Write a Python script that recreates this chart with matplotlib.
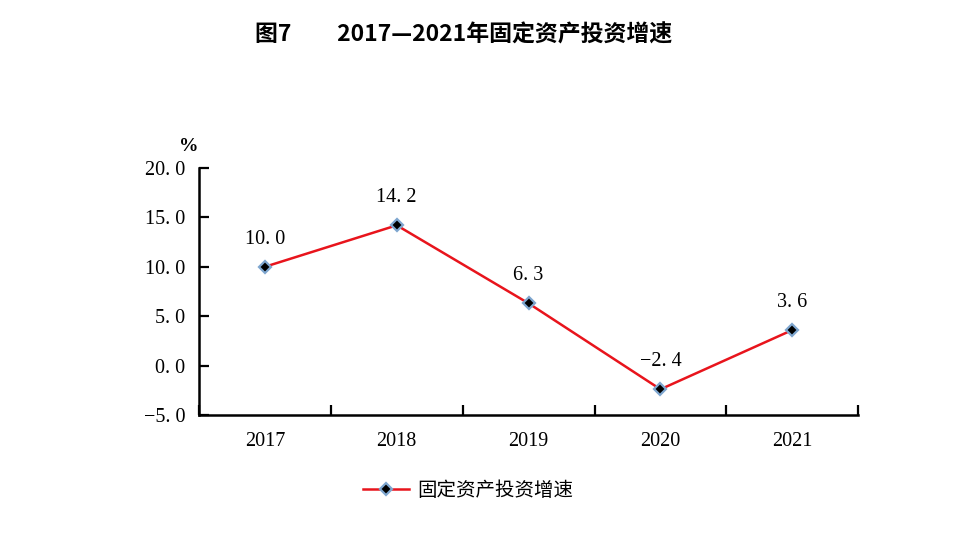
import matplotlib
matplotlib.use("Agg")
import matplotlib.pyplot as plt
from matplotlib.lines import Line2D

years = ["2017", "2018", "2019", "2020", "2021"]
growth = [10.0, 14.2, 6.3, -2.4, 3.6]
y_ticks = [-5.0, 0.0, 5.0, 10.0, 15.0, 20.0]
series_name = "固定资产投资增速"
title = "图7　　2017—2021年固定资产投资增速"

cjk = ["Noto Sans CJK SC", "DejaVu Sans"]
serif = ["Liberation Serif", "DejaVu Serif"]


def fmt(v):
    # wide decimal point like the original Song-style font
    return f"{v:.1f}".replace("-", "−").replace(".", ". ")


fig = plt.figure(figsize=(9.63, 5.33), dpi=100)
ax = fig.add_axes([0.2066, 0.2214, 0.6846, 0.4634])

x = list(range(len(years)))
ax.plot(x, growth, color="#e8141c", linewidth=1.8, marker="D", markersize=6.5,
        markerfacecolor="black", markeredgecolor="#7ea6cf", markeredgewidth=1.6,
        zorder=3)

for xi, v in zip(x, growth):
    ax.annotate(fmt(v), (xi, v), xytext=(0, 13),
                textcoords="offset points", ha="center", va="bottom",
                fontsize=14.5, family=serif)

ax.set_xlim(-0.5, len(years) - 0.5)
ax.set_ylim(y_ticks[0], y_ticks[-1])
ax.set_yticks(y_ticks)
ax.set_yticklabels([fmt(t) for t in y_ticks], family=serif, fontsize=14.5)

ax.set_xticks([i - 0.5 for i in range(len(years) + 1)])
ax.set_xticklabels([])
ax.set_xticks(x, minor=True)
ax.set_xticklabels(years, minor=True, family=serif, fontsize=14.5)
ax.tick_params(axis="x", which="major", direction="in", length=7, width=1.6)
ax.tick_params(axis="x", which="minor", length=0, pad=12)
ax.tick_params(axis="y", direction="in", length=7, width=1.6, pad=10)

for side in ["top", "right"]:
    ax.spines[side].set_visible(False)
for side in ["left", "bottom"]:
    ax.spines[side].set_linewidth(1.8)

fig.text(0.196, 0.725, "%", ha="center", va="center", fontsize=14,
         fontweight="bold", family=serif)

fig.text(0.481, 0.934, title, ha="center", va="center", fontsize=16.5,
         fontweight="bold", family=cjk)

handle = Line2D([], [], color="#e8141c", linewidth=1.8, marker="D", markersize=6.5,
                markerfacecolor="black", markeredgecolor="#7ea6cf", markeredgewidth=1.6)
fig.legend([handle], [series_name], loc="center", bbox_to_anchor=(0.486, 0.08),
           frameon=False, prop={"family": cjk, "size": 14}, handlelength=2.4,
           handletextpad=0.4)

fig.savefig("out.png", dpi=100)
